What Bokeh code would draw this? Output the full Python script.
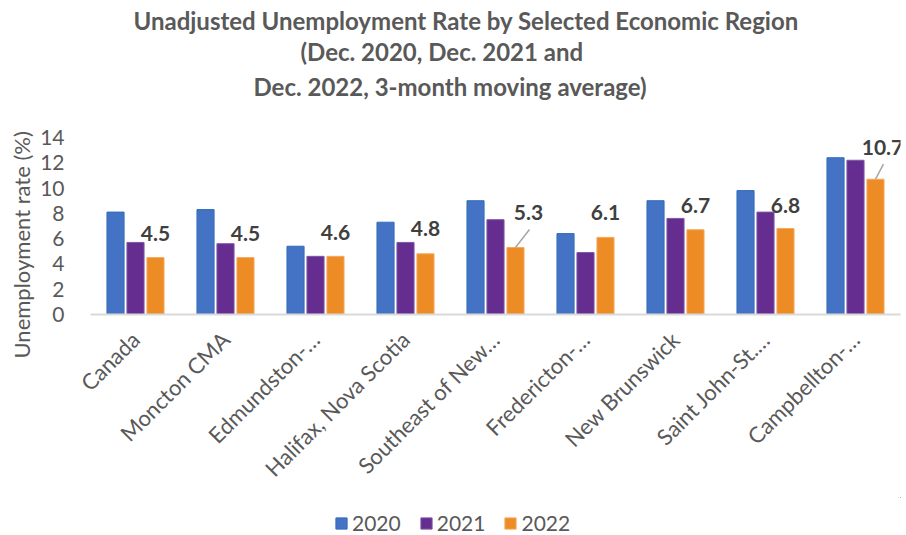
import math
from bokeh.plotting import figure
from bokeh.layouts import column
from bokeh.models import (Range1d, FixedTicker, Title, Legend, LegendItem,
                          ColumnDataSource)
from bokeh.core.properties import value
from bokeh.embed import file_html
from bokeh.resources import INLINE

# ---------------- data ----------------
categories = ["Canada", "Moncton CMA", "Edmundston-\u2026", "Halifax, Nova Scotia",
              "Southeast of New\u2026", "Fredericton-\u2026", "New Brunswick",
              "Saint John-St.\u2026", "Campbellton-\u2026"]
series_names = ["2020", "2021", "2022"]
rate_2020 = [8.1, 8.3, 5.4, 7.3, 9.0, 6.4, 9.0, 9.8, 12.4]
rate_2021 = [5.7, 5.6, 4.6, 5.7, 7.5, 4.9, 7.6, 8.1, 12.2]
rate_2022 = [4.5, 4.5, 4.6, 4.8, 5.3, 6.1, 6.7, 6.8, 10.7]
y_ticks = [0, 2, 4, 6, 8, 10, 12, 14]
title_lines = ["Unadjusted Unemployment Rate by Selected Economic Region",
               "(Dec. 2020, Dec. 2021 and",
               "Dec. 2022, 3-month moving average)"]
y_title = "Unemployment rate (%)"

# ---------------- styles ----------------
FONT = "Lato"
GRAY = "#595959"
colors = ["#4472C4", "#662D91", "#ED8B25"]
edges = ["#2F6EBA", "#7E57A6", "#F4A860"]
bar_offsets = [-0.222, 0.0, 0.222]
BAR_W = 0.19
label_dx = [0, 0, 0, 0, 13, 0, 0, 0, 7]
label_dy = [24, 24, 24, 25, 35, 25, 24, 23, 32]
leader = [False, False, False, False, True, False, False, False, True]
title_offsets = [43, 210, 163]      # left start of each title line, px from frame left
title_standoffs = [0, 0, 8]

n = len(categories)
centers = [i + 0.5 for i in range(n)]
FW, FH = 810, 177

p = figure(frame_width=FW, frame_height=FH, output_backend="svg", toolbar_location=None,
           x_range=Range1d(0, n), y_range=Range1d(0, 14), title=None,
           min_border_left=90, min_border_right=6, min_border_top=137,
           min_border_bottom=183)
p.outline_line_color = None
p.grid.visible = False

sources, renderers = [], []
for k, vals in enumerate([rate_2020, rate_2021, rate_2022]):
    src = ColumnDataSource(dict(x=[c + bar_offsets[k] for c in centers], top=vals))
    r = p.vbar(x="x", top="top", width=BAR_W, bottom=0, source=src,
               fill_color=colors[k], line_color=edges[k], line_width=1)
    sources.append(src)
    renderers.append(r)

x22 = [c + bar_offsets[2] for c in centers]
lab_src = ColumnDataSource(dict(x=x22, y=rate_2022,
                                t=[f"{v:.1f}" for v in rate_2022],
                                dx=label_dx, dy=[-d for d in label_dy]))
p.text(x="x", y="y", text="t", x_offset="dx", y_offset="dy", source=lab_src,
       text_font=value(FONT), text_font_style="bold", text_font_size="21px",
       text_color="#404040", text_align="center", text_baseline="middle")

px_x = FW / n
px_y = FH / 14
lx0, ly0, lx1, ly1 = [], [], [], []
for i in range(n):
    if leader[i]:
        lx0.append(x22[i])
        ly0.append(rate_2022[i])
        lx1.append(x22[i] + (label_dx[i] + 1) / px_x)
        ly1.append(rate_2022[i] + (label_dy[i] - 17) / px_y)
p.segment(x0=lx0, y0=ly0, x1=lx1, y1=ly1, line_color="#A6A6A6", line_width=1.5)

xa = p.xaxis[0]
xa.ticker = FixedTicker(ticks=centers)
xa.major_label_overrides = {c: lab for c, lab in zip(centers, categories)}
xa.major_label_orientation = math.pi / 4
xa.major_tick_line_color = None
xa.minor_tick_line_color = None
xa.axis_line_color = "#D9D9D9"
xa.axis_line_width = 2
xa.major_label_text_font = FONT
xa.major_label_text_font_size = "22px"
xa.major_label_text_color = GRAY
xa.major_label_standoff = 15

ya = p.yaxis[0]
ya.ticker = FixedTicker(ticks=y_ticks)
ya.major_tick_line_color = None
ya.minor_tick_line_color = None
ya.axis_line_color = None
ya.major_label_text_font = FONT
ya.major_label_text_font_size = "21px"
ya.major_label_text_color = GRAY
ya.major_label_standoff = 20

# y-axis title as a left-side title, shifted down like the reference
p.add_layout(Title(text=y_title, align="left", offset=-44, standoff=6,
                   text_font=FONT, text_font_size="22px", text_font_style="normal",
                   text_color=GRAY), "left")

# spacer + title lines (nearest to the plot first)
p.add_layout(Title(text=" ", text_font_size="22px", standoff=6), "above")
for line, off, st in zip(reversed(title_lines), reversed(title_offsets), reversed(title_standoffs)):
    p.add_layout(Title(text=line, align="left", offset=off, standoff=st,
                       text_font=FONT, text_font_size="24px", text_font_style="bold",
                       text_color=GRAY), "above")

# legend in a strip below the chart (its swatches reuse the bar sources, kept far out of view)
leg = figure(width=906, height=38, output_backend="svg", toolbar_location=None,
             x_range=Range1d(-100, -99), y_range=Range1d(-100, -99), title=None,
             x_axis_location=None, y_axis_location=None, min_border=0)
leg.outline_line_color = None
leg.grid.visible = False
leg_renderers = [leg.vbar(x="x", top="top", width=BAR_W, source=sources[k],
                          fill_color=colors[k], line_color=edges[k]) for k in range(3)]
legend = Legend(items=[LegendItem(label=s, renderers=[r]) for s, r in zip(series_names, leg_renderers)],
                orientation="horizontal", location=(244, 0), margin=0, padding=0,
                label_text_font=FONT, label_text_font_size="21px", label_text_color=GRAY,
                glyph_width=14, glyph_height=14, spacing=18, label_standoff=4,
                border_line_color=None, background_fill_alpha=0)
leg.add_layout(legend, "center")

layout = column(p, leg, spacing=0)
open("out.html", "w").write(file_html(layout, INLINE))
